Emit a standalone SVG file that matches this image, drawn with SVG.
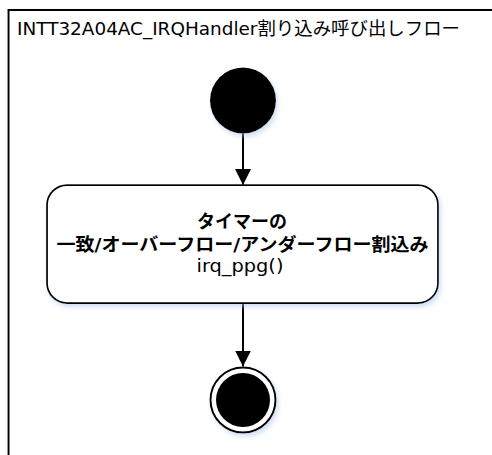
<svg xmlns="http://www.w3.org/2000/svg" width="492" height="455" viewBox="0 0 492 455">
  <style>
    .t { font-family: "DejaVu Sans", "Noto Sans CJK JP", sans-serif; fill: #000; }
    .b { font-weight: bold; }
    .edge { stroke: #000; stroke-width: 2; fill: none; }
  </style>
  <defs>
    <filter id="sh" x="-10%" y="-10%" width="130%" height="130%">
      <feDropShadow dx="2" dy="3" stdDeviation="2.5" flood-color="#a9c4e6" flood-opacity="0.55"/>
    </filter>
    <marker id="arr" viewBox="0 0 16 16" refX="16" refY="8" markerWidth="16" markerHeight="16" markerUnits="userSpaceOnUse" orient="auto">
      <path d="M0,0 L16,8 L0,16 Z" fill="#000"/>
    </marker>
  </defs>
  <rect width="492" height="455" fill="#fff"/>
  <g id="frame">
    <rect x="8.5" y="10" width="600" height="600" fill="#fff" stroke="#000" stroke-width="2" filter="url(#sh)"/>
    <text class="t" x="17" y="35" font-size="18" textLength="443" lengthAdjust="spacingAndGlyphs">INTT32A04AC_IRQHandler割り込み呼び出しフロー</text>
  </g>
  <g id="connectors">
    <line class="edge" x1="243" y1="133" x2="243" y2="185" marker-end="url(#arr)"/>
    <line class="edge" x1="243" y1="303" x2="243" y2="366.5" marker-end="url(#arr)"/>
  </g>
  <g id="start">
    <circle cx="243" cy="100.5" r="33" fill="#000" filter="url(#sh)"/>
  </g>
  <g id="irq">
    <rect x="47" y="185" width="391" height="118" rx="20" ry="20" fill="#fff" stroke="#000" stroke-width="1.75" filter="url(#sh)"/>
    <text class="t b" x="242" y="228" font-size="18" text-anchor="middle" textLength="90" lengthAdjust="spacingAndGlyphs">タイマーの</text>
    <text class="t b" x="242.5" y="250.5" font-size="18" text-anchor="middle" textLength="372" lengthAdjust="spacingAndGlyphs">一致/オーバーフロー/アンダーフロー割込み</text>
    <text class="t" x="240" y="272" font-size="18" text-anchor="middle" textLength="87" lengthAdjust="spacingAndGlyphs">irq_ppg()</text>
  </g>
  <g id="end">
    <circle cx="243" cy="400" r="32.5" fill="#fff" stroke="#000" stroke-width="2" filter="url(#sh)"/>
    <circle cx="243" cy="400" r="27" fill="#000"/>
  </g>
</svg>
